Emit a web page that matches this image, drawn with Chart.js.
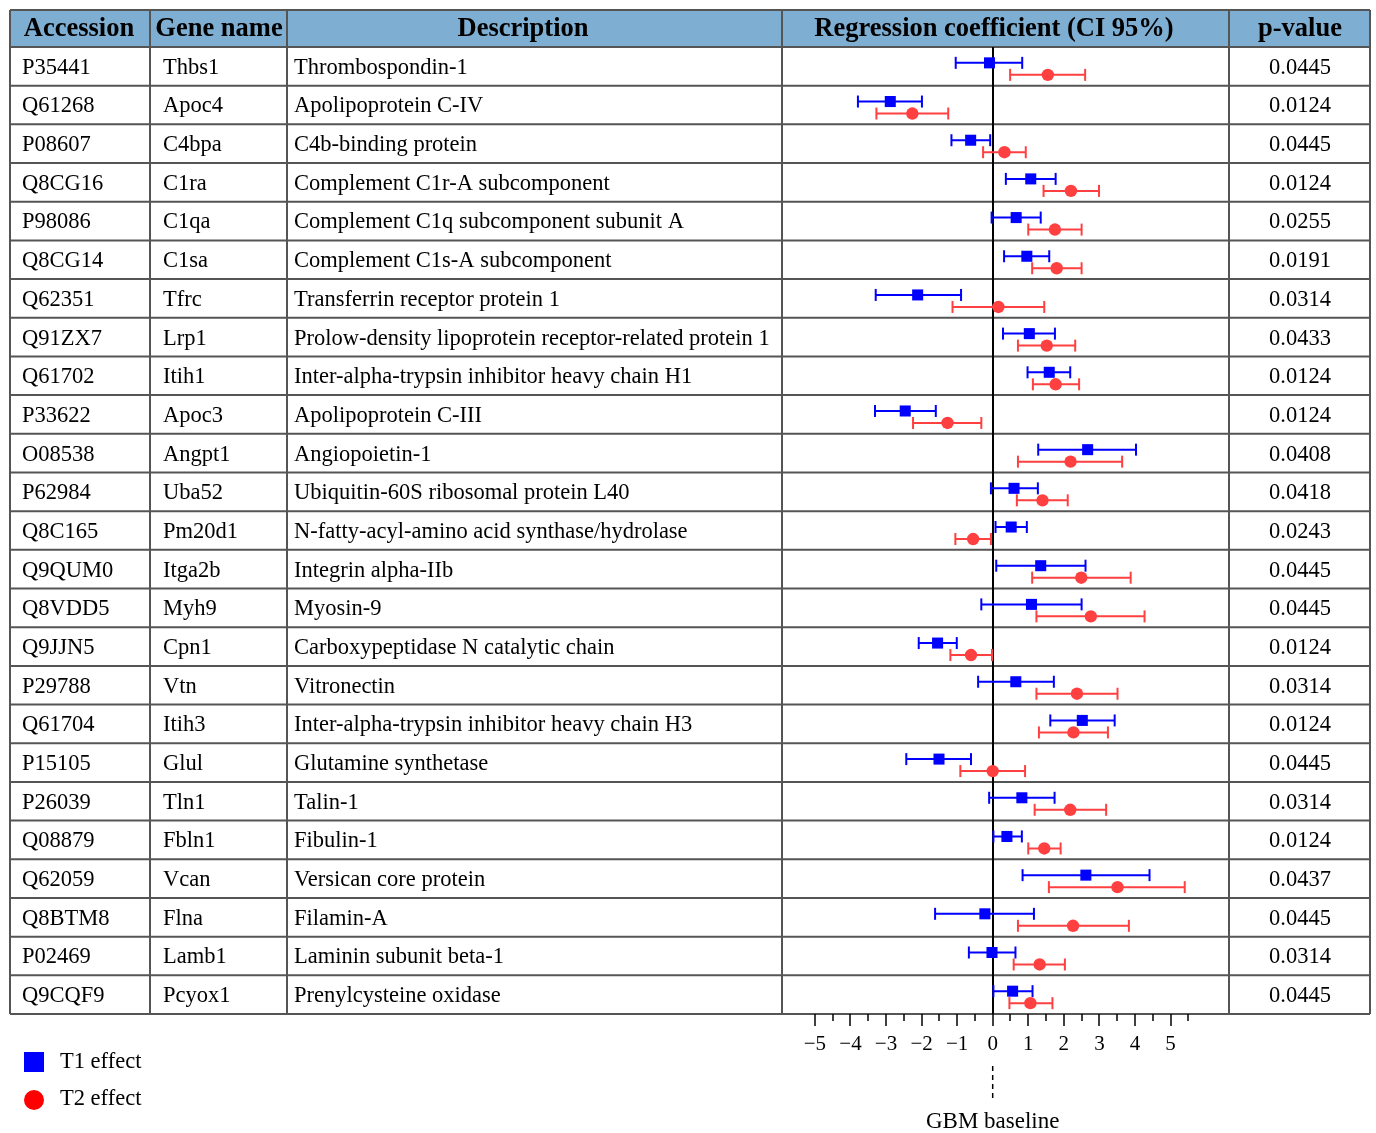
<!DOCTYPE html>
<html>
<head>
<meta charset="utf-8">
<script src="https://cdn.jsdelivr.net/npm/chart.js@4.4.0/dist/chart.umd.min.js"></script>
<style>
  html, body { margin: 0; padding: 0; background: #fff; }
  #wrap { width: 1376px; height: 1133px; position: relative; }
</style>
</head>
<body>
<div id="wrap"><canvas id="forest"></canvas></div>
<script>
// table columns
const accessions = ["P35441", "Q61268", "P08607", "Q8CG16", "P98086", "Q8CG14", "Q62351", "Q91ZX7", "Q61702", "P33622",
  "O08538", "P62984", "Q8C165", "Q9QUM0", "Q8VDD5", "Q9JJN5", "P29788", "Q61704", "P15105", "P26039",
  "Q08879", "Q62059", "Q8BTM8", "P02469", "Q9CQF9"];
const genes = ["Thbs1", "Apoc4", "C4bpa", "C1ra", "C1qa", "C1sa", "Tfrc", "Lrp1", "Itih1", "Apoc3",
  "Angpt1", "Uba52", "Pm20d1", "Itga2b", "Myh9", "Cpn1", "Vtn", "Itih3", "Glul", "Tln1",
  "Fbln1", "Vcan", "Flna", "Lamb1", "Pcyox1"];
const descriptions = ["Thrombospondin-1", "Apolipoprotein C-IV", "C4b-binding protein", "Complement C1r-A subcomponent",
  "Complement C1q subcomponent subunit A", "Complement C1s-A subcomponent", "Transferrin receptor protein 1",
  "Prolow-density lipoprotein receptor-related protein 1", "Inter-alpha-trypsin inhibitor heavy chain H1",
  "Apolipoprotein C-III", "Angiopoietin-1", "Ubiquitin-60S ribosomal protein L40",
  "N-fatty-acyl-amino acid synthase/hydrolase", "Integrin alpha-IIb", "Myosin-9",
  "Carboxypeptidase N catalytic chain", "Vitronectin", "Inter-alpha-trypsin inhibitor heavy chain H3",
  "Glutamine synthetase", "Talin-1", "Fibulin-1", "Versican core protein", "Filamin-A",
  "Laminin subunit beta-1", "Prenylcysteine oxidase"];
const pValues = ["0.0445", "0.0124", "0.0445", "0.0124", "0.0255", "0.0191", "0.0314", "0.0433", "0.0124", "0.0124",
  "0.0408", "0.0418", "0.0243", "0.0445", "0.0445", "0.0124", "0.0314", "0.0124", "0.0445", "0.0314",
  "0.0124", "0.0437", "0.0445", "0.0314", "0.0445"];

// regression coefficients with 95% CI
const t1Est  = [-0.09, -2.88, -0.62, 1.07, 0.66, 0.96, -2.11, 1.03, 1.59, -2.46,
  2.67, 0.60, 0.52, 1.35, 1.09, -1.55, 0.65, 2.52, -1.51, 0.82, 0.40, 2.62, -0.22, -0.02, 0.56];
const t1Low  = [-1.04, -3.79, -1.16, 0.37, -0.03, 0.32, -3.29, 0.29, 0.98, -3.31,
  1.28, -0.05, 0.08, 0.10, -0.32, -2.08, -0.41, 1.62, -2.43, -0.10, 0.02, 0.84, -1.62, -0.67, 0.02];
const t1High = [0.83, -1.99, -0.07, 1.77, 1.35, 1.59, -0.89, 1.75, 2.18, -1.60,
  4.03, 1.27, 0.96, 2.61, 2.50, -1.01, 1.72, 3.43, -0.61, 1.74, 0.82, 4.41, 1.16, 0.64, 1.12];
const t2Est  = [1.55, -2.26, 0.33, 2.20, 1.75, 1.80, 0.16, 1.52, 1.77, -1.27,
  2.19, 1.40, -0.55, 2.49, 2.76, -0.61, 2.37, 2.27, 0.00, 2.18, 1.45, 3.51, 2.26, 1.32, 1.06];
const t2Low  = [0.49, -3.27, -0.27, 1.43, 1.00, 1.11, -1.13, 0.71, 1.13, -2.24,
  0.71, 0.68, -1.05, 1.11, 1.23, -1.19, 1.23, 1.30, -0.91, 1.18, 1.00, 1.58, 0.71, 0.59, 0.47];
const t2High = [2.60, -1.25, 0.93, 2.99, 2.50, 2.50, 1.45, 2.32, 2.43, -0.32,
  3.64, 2.11, -0.05, 3.88, 4.27, -0.02, 3.51, 3.24, 0.91, 3.19, 1.91, 5.40, 3.83, 2.03, 1.68];

const xTicks = [-5, -4.5, -4, -3.5, -3, -2.5, -2, -1.5, -1, -0.5, 0, 0.5, 1, 1.5, 2, 2.5, 3, 3.5, 4, 4.5, 5, 5.5];

const FONT = "'Liberation Serif', 'Times New Roman', serif";
const BLUE = "#0000ff";
const RED = "#ff4040";
const T1_SHIFT = -0.09;
const T2_SHIFT = 0.22;

function points(est, shift) {
  return est.map((v, i) => ({ x: v, y: i + shift }));
}
function bars(low, high, shift) {
  const out = [];
  low.forEach((lo, i) => {
    out.push({ x: lo, y: i + shift });
    out.push({ x: high[i], y: i + shift });
    out.push({ x: null, y: null });
  });
  return out;
}

const colX = [10, 150, 287, 782, 1229, 1370];

const tablePlugin = {
  id: "table",
  beforeDraw(chart) {
    const ctx = chart.ctx;
    const ys = chart.scales.y;
    const top = 10;
    const headBottom = ys.getPixelForValue(-0.5);
    const bottom = ys.getPixelForValue(accessions.length - 0.5);
    ctx.save();
    ctx.fillStyle = "#fff";
    ctx.fillRect(0, 0, chart.width, chart.height);
    ctx.fillStyle = "#7eaed2";
    ctx.fillRect(colX[0], top, colX[5] - colX[0], headBottom - top);
    ctx.strokeStyle = "#555";
    ctx.lineWidth = 2;
    ctx.beginPath();
    ctx.moveTo(colX[0], top);
    ctx.lineTo(colX[5], top);
    for (let i = 0; i <= accessions.length; i++) {
      const yy = ys.getPixelForValue(i - 0.5);
      ctx.moveTo(colX[0], yy);
      ctx.lineTo(colX[5], yy);
    }
    colX.forEach(x => {
      ctx.moveTo(x, top);
      ctx.lineTo(x, bottom);
    });
    ctx.stroke();
    ctx.restore();
  },
  afterDraw(chart) {
    const ctx = chart.ctx;
    const ys = chart.scales.y;
    const xs = chart.scales.x;
    ctx.save();
    ctx.fillStyle = "#000";
    ctx.textBaseline = "middle";

    // header
    ctx.font = "bold 26.5px " + FONT;
    ctx.textAlign = "center";
    const hy = 29;
    ctx.fillText("Accession", 79, hy);
    ctx.fillText("Gene name", 219, hy);
    ctx.fillText("Description", 523, hy);
    ctx.fillText("Regression coefficient (CI 95%)", 994, hy);
    ctx.fillText("p-value", 1300, hy);

    // body
    ctx.font = "22.5px " + FONT;
    accessions.forEach((acc, i) => {
      const yy = ys.getPixelForValue(i) + 1.5;
      ctx.textAlign = "left";
      ctx.fillText(acc, 22, yy);
      ctx.fillText(genes[i], 163, yy);
      ctx.fillText(descriptions[i], 294, yy);
      ctx.textAlign = "center";
      ctx.fillText(pValues[i], 1300, yy);
    });

    // baseline marker
    const x0 = xs.getPixelForValue(0);
    ctx.strokeStyle = "#000";
    ctx.lineWidth = 1.5;
    ctx.setLineDash([5, 4]);
    ctx.beginPath();
    ctx.moveTo(x0, 1066);
    ctx.lineTo(x0, 1101);
    ctx.stroke();
    ctx.setLineDash([]);
    ctx.textAlign = "center";
    ctx.font = "23px " + FONT;
    ctx.fillText("GBM baseline", x0, 1122);

    // legend
    ctx.fillStyle = BLUE;
    ctx.fillRect(24, 1052, 20, 20);
    ctx.fillStyle = "#ff0000";
    ctx.beginPath();
    ctx.arc(34, 1100, 10, 0, Math.PI * 2);
    ctx.fill();
    ctx.fillStyle = "#000";
    ctx.textAlign = "left";
    ctx.font = "22.5px " + FONT;
    ctx.fillText("T1 effect", 60, 1062);
    ctx.fillText("T2 effect", 60, 1099);
    ctx.restore();
  }
};

new Chart(document.getElementById("forest"), {
  type: "scatter",
  data: {
    datasets: [
      {
        label: "T1 effect",
        data: points(t1Est, T1_SHIFT),
        pointStyle: "rect",
        pointRadius: 7.8,
        backgroundColor: BLUE,
        borderWidth: 0,
      },
      {
        label: "T2 effect",
        data: points(t2Est, T2_SHIFT),
        pointStyle: "circle",
        pointRadius: 6.2,
        backgroundColor: RED,
        borderWidth: 0,
      },
      {
        label: "T1 CI",
        data: bars(t1Low, t1High, T1_SHIFT),
        showLine: true,
        spanGaps: false,
        borderColor: BLUE,
        borderWidth: 2,
        pointStyle: "line",
        rotation: 90,
        pointRadius: 6,
        pointBorderColor: BLUE,
        pointBorderWidth: 2,
      },
      {
        label: "T2 CI",
        data: bars(t2Low, t2High, T2_SHIFT),
        showLine: true,
        spanGaps: false,
        borderColor: RED,
        borderWidth: 2,
        pointStyle: "line",
        rotation: 90,
        pointRadius: 6,
        pointBorderColor: RED,
        pointBorderWidth: 2,
      },
    ],
  },
  options: {
    responsive: true,
    maintainAspectRatio: false,
    animation: false,
    events: [],
    layout: {
      padding: { left: 782, right: 147, top: 47, bottom: 77 },
    },
    plugins: {
      legend: { display: false },
      tooltip: { enabled: false },
    },
    scales: {
      x: {
        type: "linear",
        min: -5.925,
        max: 6.645,
        afterBuildTicks: (scale) => {
          scale.ticks = xTicks.map((v) => ({ value: v }));
        },
        afterFit: (scale) => {
          scale.height = 42;
        },
        border: { display: false },
        grid: {
          drawOnChartArea: true,
          color: (c) => (c.tick && c.tick.value === 0 ? "#000" : "rgba(0,0,0,0)"),
          lineWidth: 2,
          drawTicks: true,
          tickLength: 12,
          tickColor: "#000",
          tickWidth: 1.5,
          tickBorderDash: (c) => (c.tick && Number.isInteger(c.tick.value) ? [] : [7, 20]),
        },
        ticks: {
          autoSkip: false,
          maxRotation: 0,
          padding: 6,
          color: "#000",
          font: { family: FONT, size: 21 },
          callback: (v) => (Number.isInteger(v) ? (v < 0 ? "\u2212" + Math.abs(v) : String(v)) : ""),
        },
      },
      y: {
        type: "linear",
        display: false,
        reverse: true,
        min: -0.5,
        max: accessions.length - 0.5,
      },
    },
  },
  plugins: [tablePlugin],
});
</script>
</body>
</html>
